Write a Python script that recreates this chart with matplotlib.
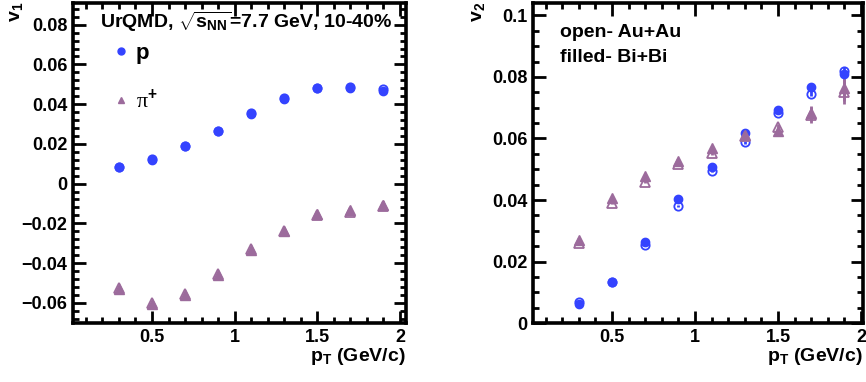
import matplotlib
matplotlib.use("Agg")
import matplotlib.pyplot as plt
from matplotlib.ticker import FixedLocator, FixedFormatter, MultipleLocator
from matplotlib.lines import Line2D

# Data
pt = [0.3, 0.5, 0.7, 0.9, 1.1, 1.3, 1.5, 1.7, 1.9]

# v1: filled = Bi+Bi, open = Au+Au
v1_p_bi = [0.0081, 0.0120, 0.0187, 0.0264, 0.0348, 0.0428, 0.0480, 0.0480, 0.0468]
v1_p_au = [0.0083, 0.0125, 0.0190, 0.0267, 0.0355, 0.0432, 0.0481, 0.0485, 0.0475]
v1_p_err = [0.0003, 0.0003, 0.0003, 0.0004, 0.0004, 0.0005, 0.0005, 0.0006, 0.0008]
v1_pi_bi = [-0.0530, -0.0604, -0.0559, -0.0458, -0.0333, -0.0241, -0.0153, -0.0132, -0.0107]
v1_pi_au = [-0.0528, -0.0602, -0.0557, -0.0456, -0.0331, -0.0238, -0.0157, -0.0145, -0.0112]
v1_pi_err = [0.0003, 0.0003, 0.0004, 0.0004, 0.0005, 0.0006, 0.0008, 0.0012, 0.0020]

# v2
v2_p_bi = [0.0062, 0.0134, 0.0264, 0.0402, 0.0508, 0.0617, 0.0693, 0.0766, 0.0810]
v2_p_au = [0.0069, 0.0134, 0.0254, 0.0380, 0.0495, 0.0588, 0.0684, 0.0745, 0.0820]
v2_p_err = [0.0003, 0.0003, 0.0004, 0.0004, 0.0005, 0.0005, 0.0006, 0.0008, 0.0012]
v2_pi_bi = [0.0270, 0.0406, 0.0479, 0.0527, 0.0570, 0.0611, 0.0624, 0.0682, 0.0763]
v2_pi_au = [0.0259, 0.0391, 0.0460, 0.0517, 0.0552, 0.0608, 0.0638, 0.0676, 0.0752]
v2_pi_err = [0.0003, 0.0003, 0.0004, 0.0005, 0.0006, 0.0008, 0.0010, 0.0025, 0.0040]

x_ticks = [0.5, 1, 1.5, 2]
x_labels = ["0.5", "1", "1.5", "2"]
v1_ticks = [-0.06, -0.04, -0.02, 0, 0.02, 0.04, 0.06, 0.08]
v1_labels = ["\u22120.06", "\u22120.04", "\u22120.02", "0", "0.02", "0.04", "0.06", "0.08"]
v2_ticks = [0, 0.02, 0.04, 0.06, 0.08, 0.1]
v2_labels = ["0", "0.02", "0.04", "0.06", "0.08", "0.1"]

blue = "#3443ff"
purple = "#9c6b9c"

plt.rcParams["font.family"] = ["Liberation Sans", "DejaVu Sans"]
plt.rcParams["font.weight"] = "bold"
plt.rcParams["axes.labelweight"] = "bold"
plt.rcParams["mathtext.fontset"] = "custom"
plt.rcParams["mathtext.rm"] = "Liberation Sans:bold"
plt.rcParams["mathtext.bf"] = "Liberation Sans:bold"
plt.rcParams["mathtext.it"] = "Liberation Sans:bold"
plt.rcParams["mathtext.default"] = "rm"

fig = plt.figure(figsize=(8.66, 3.82), dpi=100)
ax1 = fig.add_axes([0.0843, 0.154, 0.3845, 0.838])
ax2 = fig.add_axes([0.6155, 0.154, 0.3810, 0.838])


def draw(ax, y_au, y_bi, err, color, marker, ms):
    # open (Au+Au) first, filled (Bi+Bi) on top
    ax.errorbar(pt, y_au, yerr=err, fmt=marker, color=color, mfc="none",
                mec=color, mew=1.3, ms=ms, elinewidth=2, capsize=0)
    return ax.errorbar(pt, y_bi, yerr=err, fmt=marker, color=color,
                       mec=color, ms=ms, elinewidth=2, capsize=0)


draw(ax1, v1_p_au, v1_p_bi, v1_p_err, blue, "o", 6)
draw(ax1, v1_pi_au, v1_pi_bi, v1_pi_err, purple, "^", 6.5)
draw(ax2, v2_p_au, v2_p_bi, v2_p_err, blue, "o", 6)
draw(ax2, v2_pi_au, v2_pi_bi, v2_pi_err, purple, "^", 6.5)

ax1.set_xlim(0.022, 2.036)
ax1.set_ylim(-0.0703, 0.0909)
ax2.set_xlim(0.024, 2.012)
ax2.set_ylim(0, 0.104)

for ax, yt, yl, yminor in [(ax1, v1_ticks, v1_labels, 0.004),
                           (ax2, v2_ticks, v2_labels, 0.005)]:
    ax.xaxis.set_major_locator(FixedLocator(x_ticks))
    ax.xaxis.set_major_formatter(FixedFormatter(x_labels))
    ax.xaxis.set_minor_locator(MultipleLocator(0.1))
    ax.yaxis.set_major_locator(FixedLocator(yt))
    ax.yaxis.set_major_formatter(FixedFormatter(yl))
    ax.yaxis.set_minor_locator(MultipleLocator(yminor))
    ax.tick_params(which="both", direction="in", top=True, right=True,
                   labelsize=13, width=2)
    ax.tick_params(which="major", length=9, pad=4)
    ax.tick_params(which="minor", length=4.5)
    for s in ax.spines.values():
        s.set_linewidth(2.6)
    ax.set_xlabel("p$_{\\mathrm{T}}$ (GeV/c)", fontsize=14, loc="right",
                  labelpad=0)

ax1.text(-0.171, 1.004, "v$_1$", transform=ax1.transAxes, rotation=90,
         fontsize=14, ha="center", va="top")
ax2.text(-0.165, 1.004, "v$_2$", transform=ax2.transAxes, rotation=90,
         fontsize=14, ha="center", va="top")

ax1.text(0.08, 0.94, "UrQMD, $\\sqrt{\\mathrm{s_{NN}}}$=7.7 GeV, 10-40%",
         transform=ax1.transAxes, fontsize=14, va="center", ha="left")

hp = Line2D([], [], ls="none", marker="o", color=blue, ms=5)
hpi = Line2D([], [], ls="none", marker="^", color=purple, ms=5)
leg = ax1.legend([hp, hpi], ["p", "\u03c0$^{+}$"], loc="upper left",
                 bbox_to_anchor=(0.078, 0.91), frameon=False, borderpad=0,
                 handlelength=1.0, handletextpad=0.15, labelspacing=1.15,
                 fontsize=16)
leg.get_texts()[0].set_fontweight("bold")
leg.get_texts()[1].set_fontfamily(["Liberation Serif", "DejaVu Serif"])
leg.get_texts()[1].set_fontweight("normal")

ax2.text(0.082, 0.909, "open- Au+Au", transform=ax2.transAxes,
         fontsize=14, va="center", ha="left")
ax2.text(0.082, 0.831, "filled- Bi+Bi", transform=ax2.transAxes,
         fontsize=14, va="center", ha="left")

fig.savefig("out.png", dpi=100)
